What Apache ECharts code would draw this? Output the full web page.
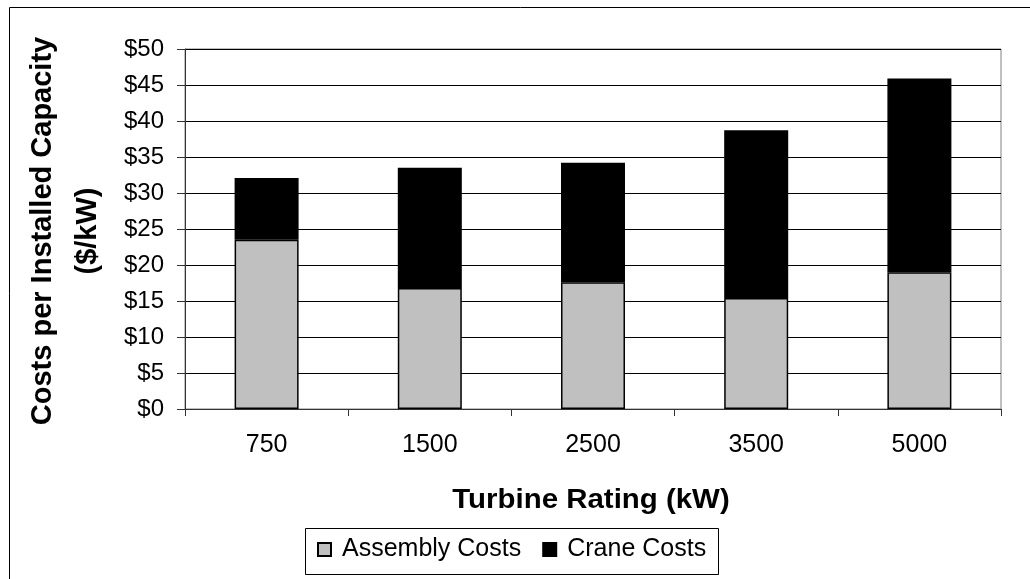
<!DOCTYPE html>
<html>
<head>
<meta charset="utf-8">
<title>Costs per Installed Capacity by Turbine Rating</title>
<script src="https://cdn.jsdelivr.net/npm/echarts@6/dist/echarts.min.js"></script>
<style>
  html, body { margin: 0; padding: 0; background: #fff; }
  #chart { width: 1030px; height: 579px; }
</style>
</head>
<body>
<div id="chart"></div>
<script>
// Turbine ratings (kW) along the x axis
const ratings = ['750', '1500', '2500', '3500', '5000'];
// Assembly costs, $/kW
const assemblyCosts = [23.5, 16.8, 17.6, 15.4, 19.0];
// Crane costs, $/kW (stacked on top of assembly)
const craneCosts = [8.6, 16.7, 16.6, 23.3, 26.9];
// Y axis range and step
const yMin = 0, yMax = 50, yStep = 5;

const FONT = '"Liberation Sans", Arial, sans-serif';

const chart = echarts.init(document.getElementById('chart'), null, { renderer: 'canvas' });

chart.setOption({
  backgroundColor: '#ffffff',
  animation: false,
  textStyle: { fontFamily: FONT, color: '#000' },
  grid: {
    left: 185, top: 49, width: 816, height: 360,
    show: true, borderColor: '#808080', borderWidth: 1, backgroundColor: 'transparent'
  },
  legend: {
    left: 312, top: 532,
    itemWidth: 13, itemHeight: 13, itemGap: 21,
    icon: 'rect',
    textStyle: { fontFamily: FONT, fontSize: 25, color: '#000', padding: [0, 0, 0, 6] },
    data: ['Assembly Costs', 'Crane Costs']
  },
  xAxis: {
    type: 'category',
    data: ratings,
    boundaryGap: true,
    axisLine: { show: true, lineStyle: { color: '#333', width: 1 } },
    axisTick: { show: true, length: 7, lineStyle: { color: '#333' } },
    axisLabel: { fontFamily: FONT, fontSize: 25, color: '#000', margin: 24 },
    splitLine: { show: false }
  },
  yAxis: {
    type: 'value',
    min: yMin, max: yMax, interval: yStep,
    axisLine: { show: true, lineStyle: { color: '#333', width: 1 } },
    axisTick: { show: true, length: 8, lineStyle: { color: '#333' } },
    axisLabel: {
      fontFamily: FONT, fontSize: 24, color: '#000', margin: 21,
      formatter: v => '$' + v
    },
    splitLine: { show: true, lineStyle: { color: '#000', width: 1 } }
  },
  series: [
    {
      name: 'Assembly Costs',
      type: 'bar',
      stack: 'cost',
      barWidth: 64,
      data: assemblyCosts,
      itemStyle: { color: '#c0c0c0', borderColor: '#000', borderWidth: 1.5 }
    },
    {
      name: 'Crane Costs',
      type: 'bar',
      stack: 'cost',
      barWidth: 64,
      data: craneCosts,
      itemStyle: { color: '#000', borderColor: '#000', borderWidth: 1.5 }
    }
  ],
  graphic: [
    // outer chart frame
    {
      type: 'rect', left: 7, top: 5, silent: true, z: -10,
      shape: { width: 1040, height: 600 },
      style: { fill: 'none', stroke: '#000', lineWidth: 1 }
    },
    // legend frame
    {
      type: 'rect', left: 303, top: 526, silent: true,
      shape: { width: 413, height: 46 },
      style: { fill: 'none', stroke: '#000', lineWidth: 1 }
    },
    // y axis title, two lines
    {
      type: 'text', x: 43, y: 231, rotation: Math.PI / 2, silent: true,
      style: {
        text: 'Costs per Installed Capacity', fill: '#000',
        font: 'bold 29px ' + FONT, textAlign: 'center', textVerticalAlign: 'middle'
      }
    },
    {
      type: 'text', x: 88, y: 231, rotation: Math.PI / 2, silent: true,
      style: {
        text: '($/kW)', fill: '#000',
        font: 'bold 29px ' + FONT, textAlign: 'center', textVerticalAlign: 'middle'
      }
    },
    // x axis title
    {
      type: 'text', x: 591, y: 501, scaleX: 1.09, silent: true,
      style: {
        text: 'Turbine Rating (kW)', fill: '#000',
        font: 'bold 27px ' + FONT, textAlign: 'center', textVerticalAlign: 'middle'
      }
    }
  ]
});
</script>
</body>
</html>
